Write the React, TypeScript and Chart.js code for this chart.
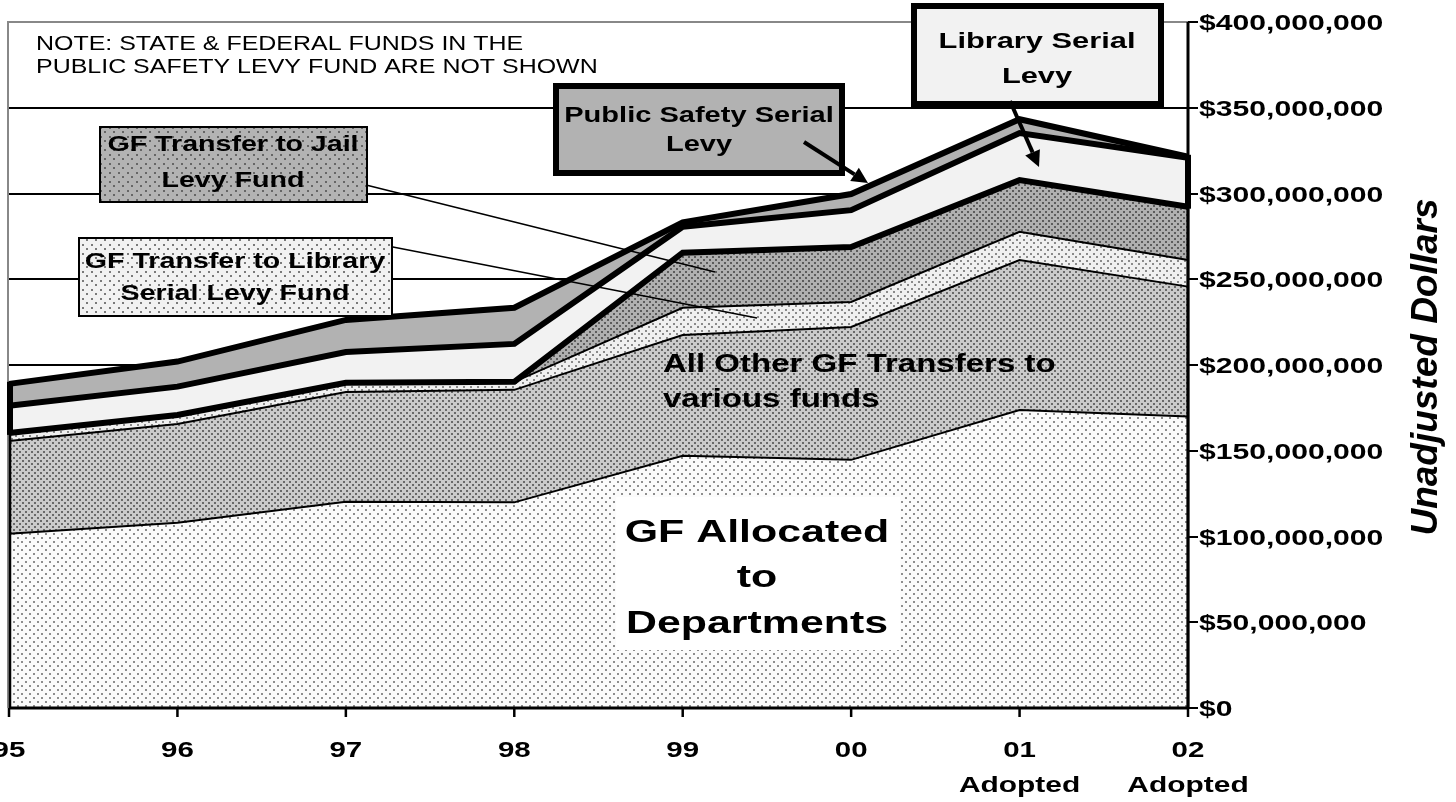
import React, { useEffect, useRef } from 'react';
import { Chart, registerables } from 'chart.js';

Chart.register(...registerables);

// ---------- data (millions of dollars) ----------
const categories = ['95', '96', '97', '98', '99', '00', '01', '02'];
const categorySubLabels = ['', '', '', '', '', '', 'Adopted', 'Adopted'];

const gfAllocated = [101.6, 108.0, 120.3, 119.9, 147.1, 144.7, 173.8, 169.9];
const allOtherTransfers = [54.1, 57.6, 64.0, 65.6, 70.4, 77.5, 87.4, 75.8];
const libraryTransfer = [4.7, 5.3, 5.3, 4.7, 15.9, 14.6, 16.5, 15.5];
const jailTransfer = [0, 0, 0, 0, 32.1, 32.0, 30.1, 31.1];
const librarySerialLevy = [15.8, 16.5, 18.0, 22.1, 15.1, 21.5, 27.4, 28.6];
const publicSafetySerialLevy = [12.8, 14.6, 18.7, 21.1, 2.6, 9.4, 8.1, 0.5];

const yTickValues = [0, 50, 100, 150, 200, 250, 300, 350, 400];
const yTickLabels = [
  '$0',
  '$50,000,000',
  '$100,000,000',
  '$150,000,000',
  '$200,000,000',
  '$250,000,000',
  '$300,000,000',
  '$350,000,000',
  '$400,000,000',
];

const FONT = '"Liberation Sans", Arial, Helvetica, sans-serif';

function makePattern(bg: string, dot: string, tile: number, offsets: number[][], dotSize = 2) {
  const c = document.createElement('canvas');
  c.width = tile;
  c.height = tile;
  const g = c.getContext('2d')!;
  g.fillStyle = bg;
  g.fillRect(0, 0, tile, tile);
  g.fillStyle = dot;
  for (const [x, y] of offsets) g.fillRect(x, y, dotSize, dotSize);
  const ctx = document.createElement('canvas').getContext('2d')!;
  return ctx.createPattern(c, 'repeat')!;
}

function drawText(
  ctx: CanvasRenderingContext2D,
  text: string,
  x: number,
  y: number,
  size: number,
  weight: string,
  sx: number,
  align: 'left' | 'center' | 'right' = 'left',
  style = 'normal'
) {
  ctx.save();
  ctx.font = `${style} ${weight} ${size}px ${FONT}`;
  ctx.textBaseline = 'alphabetic';
  ctx.textAlign = 'left';
  ctx.fillStyle = '#000';
  const w = ctx.measureText(text).width * sx;
  const x0 = align === 'center' ? x - w / 2 : align === 'right' ? x - w : x;
  ctx.translate(x0, y);
  ctx.scale(sx, 1);
  ctx.fillText(text, 0, 0);
  ctx.restore();
}

function drawArrow(
  ctx: CanvasRenderingContext2D,
  x1: number,
  y1: number,
  x2: number,
  y2: number,
  lw: number,
  head: number,
  hw: number
) {
  const a = Math.atan2(y2 - y1, x2 - x1);
  const bx = x2 - head * Math.cos(a);
  const by = y2 - head * Math.sin(a);
  ctx.save();
  ctx.strokeStyle = '#000';
  ctx.fillStyle = '#000';
  ctx.lineWidth = lw;
  ctx.beginPath();
  ctx.moveTo(x1, y1);
  ctx.lineTo(bx, by);
  ctx.stroke();
  ctx.beginPath();
  ctx.moveTo(x2, y2);
  ctx.lineTo(bx + hw * Math.sin(a), by - hw * Math.cos(a));
  ctx.lineTo(bx - hw * Math.sin(a), by + hw * Math.cos(a));
  ctx.closePath();
  ctx.fill();
  ctx.restore();
}

export default function App() {
  const ref = useRef<HTMLCanvasElement>(null);

  useEffect(() => {
    const canvas = ref.current!;
    const stagger6 = [
      [1, 1],
      [4, 4],
    ];
    const stagger8 = [
      [1, 1],
      [5, 5],
    ];
    const stagger9 = [
      [1, 1],
      [5, 5],
    ];
    const pAlloc = makePattern('#fbfbfb', '#8e8e8e', 8, stagger8);
    const pOther = makePattern('#cbcbcb', '#6a6a6a', 6, stagger6);
    const pLibT = makePattern('#f0f0f0', '#8a8a8a', 7, [
      [1, 1],
      [4, 4],
    ]);
    const pJail = makePattern('#b0b0b0', '#5c5c5c', 6, stagger6);
    const pJailBox = makePattern('#b3b3b3', '#666666', 9, stagger9);
    const pLibBox = makePattern('#f2f2f2', '#7a7a7a', 9, stagger9);

    const overlay = {
      id: 'overlay',
      beforeDraw(chart: any) {
        const { ctx, chartArea: ca, scales } = chart;
        const ys = scales.y;
        ctx.save();
        ctx.fillStyle = '#fff';
        ctx.fillRect(0, 0, chart.width, chart.height);
        ctx.strokeStyle = '#000';
        ctx.lineWidth = 2;
        for (const v of yTickValues) {
          if (v === 0 || v === 400) continue;
          const py = Math.round(ys.getPixelForValue(v));
          ctx.beginPath();
          ctx.moveTo(ca.left, py);
          ctx.lineTo(ca.right, py);
          ctx.stroke();
        }
        ctx.strokeStyle = '#888';
        ctx.lineWidth = 2;
        ctx.beginPath();
        ctx.moveTo(ca.left - 1, ca.bottom);
        ctx.lineTo(ca.left - 1, ca.top);
        ctx.lineTo(ca.right, ca.top);
        ctx.stroke();
        ctx.restore();
      },
      afterDraw(chart: any) {
        const { ctx, chartArea: ca, scales } = chart;
        const xs = scales.x;
        const ys = scales.y;
        const n = categories.length;
        ctx.save();
        ctx.strokeStyle = '#000';
        // vertical edges of the stacked areas
        for (const i of [0, n - 1]) {
          const px = xs.getPixelForValue(i) + (i === 0 ? 1 : 0);
          const base = gfAllocated[i] + allOtherTransfers[i] + libraryTransfer[i] + jailTransfer[i];
          const top = base + librarySerialLevy[i] + publicSafetySerialLevy[i];
          ctx.lineWidth = 2.5;
          ctx.beginPath();
          ctx.moveTo(px, ys.getPixelForValue(0));
          ctx.lineTo(px, ys.getPixelForValue(base));
          ctx.stroke();
          ctx.lineWidth = 6;
          ctx.beginPath();
          ctx.moveTo(px, ys.getPixelForValue(base) + 2);
          ctx.lineTo(px, ys.getPixelForValue(top) - 2);
          ctx.stroke();
        }
        // x axis
        ctx.lineWidth = 3;
        ctx.beginPath();
        ctx.moveTo(ca.left, ca.bottom);
        ctx.lineTo(ca.right + 1, ca.bottom);
        ctx.stroke();
        ctx.lineWidth = 2.5;
        for (let i = 0; i < n; i++) {
          const px = xs.getPixelForValue(i);
          ctx.beginPath();
          ctx.moveTo(px, ca.bottom);
          ctx.lineTo(px, ca.bottom + 9);
          ctx.stroke();
          drawText(ctx, categories[i], px, 757, 22, 'bold', 1.34, 'center');
          if (categorySubLabels[i]) drawText(ctx, categorySubLabels[i], px, 792, 22, 'bold', 1.36, 'center');
        }
        // y axis (right)
        ctx.lineWidth = 3;
        ctx.beginPath();
        ctx.moveTo(ca.right, ca.top);
        ctx.lineTo(ca.right, ca.bottom + 1);
        ctx.stroke();
        ctx.lineWidth = 2;
        yTickValues.forEach((v, k) => {
          const py = Math.round(ys.getPixelForValue(v));
          ctx.beginPath();
          ctx.moveTo(ca.right, py);
          ctx.lineTo(ca.right + 10, py);
          ctx.stroke();
          drawText(ctx, yTickLabels[k], ca.right + 11, py + 8, 22, 'bold', 1.37, 'left');
        });
        // y title
        ctx.save();
        ctx.translate(1437, (ca.top + ca.bottom) / 2 + 2);
        ctx.rotate(-Math.PI / 2);
        ctx.font = `italic bold 37px ${FONT}`;
        ctx.textAlign = 'center';
        ctx.textBaseline = 'alphabetic';
        ctx.fillStyle = '#000';
        ctx.fillText('Unadjusted Dollars', 0, 0);
        ctx.restore();

        // note
        drawText(ctx, 'NOTE: STATE & FEDERAL FUNDS IN THE', 36, 50, 19.5, 'normal', 1.28);
        drawText(ctx, 'PUBLIC SAFETY LEVY FUND ARE NOT SHOWN', 36, 73, 19.5, 'normal', 1.28);

        // leader lines
        ctx.lineWidth = 1.6;
        ctx.beginPath();
        ctx.moveTo(358, 183);
        ctx.lineTo(715, 272);
        ctx.stroke();
        ctx.beginPath();
        ctx.moveTo(357, 240);
        ctx.lineTo(757, 318);
        ctx.stroke();

        // GF Transfer to Jail Levy Fund box
        ctx.fillStyle = pJailBox;
        ctx.fillRect(100, 127, 267, 75);
        ctx.lineWidth = 2;
        ctx.strokeRect(100, 127, 267, 75);
        drawText(ctx, 'GF Transfer to Jail', 233, 151, 22, 'bold', 1.3, 'center');
        drawText(ctx, 'Levy Fund', 233, 187, 22, 'bold', 1.3, 'center');

        // GF Transfer to Library Serial Levy Fund box
        ctx.fillStyle = pLibBox;
        ctx.fillRect(79, 238, 313, 78);
        ctx.strokeRect(79, 238, 313, 78);
        drawText(ctx, 'GF Transfer to Library', 235, 268, 22, 'bold', 1.3, 'center');
        drawText(ctx, 'Serial Levy Fund', 235, 300, 22, 'bold', 1.3, 'center');

        // Public Safety Serial Levy box
        ctx.fillStyle = '#b2b2b2';
        ctx.fillRect(556, 86, 286, 87);
        ctx.lineWidth = 6;
        ctx.strokeRect(556, 86, 286, 87);
        drawText(ctx, 'Public Safety Serial', 699, 122, 22, 'bold', 1.32, 'center');
        drawText(ctx, 'Levy', 699, 151, 22, 'bold', 1.32, 'center');
        drawArrow(ctx, 804, 142, 868, 183, 4, 16, 8);

        // Library Serial Levy box
        ctx.fillStyle = '#f2f2f2';
        ctx.fillRect(914, 6, 247, 98);
        ctx.lineWidth = 6;
        ctx.strokeRect(914, 6, 247, 98);
        drawText(ctx, 'Library Serial', 1037, 48, 22, 'bold', 1.4, 'center');
        drawText(ctx, 'Levy', 1037, 83, 22, 'bold', 1.4, 'center');
        drawArrow(ctx, 1010, 101, 1039, 167, 4, 16, 8);

        // All Other GF Transfers label
        drawText(ctx, 'All Other GF Transfers to', 663, 372, 26, 'bold', 1.27, 'left');
        drawText(ctx, 'various funds', 663, 407, 26, 'bold', 1.27, 'left');

        // GF Allocated to Departments
        ctx.fillStyle = '#fff';
        ctx.fillRect(616, 497, 284, 153);
        drawText(ctx, 'GF Allocated', 757, 542, 32, 'bold', 1.34, 'center');
        drawText(ctx, 'to', 757, 587, 32, 'bold', 1.34, 'center');
        drawText(ctx, 'Departments', 757, 633, 32, 'bold', 1.34, 'center');
        ctx.restore();
      },
    };

    const common = { pointRadius: 0, tension: 0, borderColor: '#000', borderJoinStyle: 'miter' as const };

    const chart = new Chart(canvas, {
      type: 'line',
      data: {
        labels: categories,
        datasets: [
          { ...common, label: 'GF Allocated to Departments', data: gfAllocated, backgroundColor: pAlloc, fill: 'origin', borderWidth: 2 },
          { ...common, label: 'All Other GF Transfers to various funds', data: allOtherTransfers, backgroundColor: pOther, fill: '-1', borderWidth: 2 },
          { ...common, label: 'GF Transfer to Library Serial Levy Fund', data: libraryTransfer, backgroundColor: pLibT, fill: '-1', borderWidth: 2 },
          { ...common, label: 'GF Transfer to Jail Levy Fund', data: jailTransfer, backgroundColor: pJail, fill: '-1', borderWidth: 6 },
          { ...common, label: 'Library Serial Levy', data: librarySerialLevy, backgroundColor: '#f2f2f2', fill: '-1', borderWidth: 6 },
          { ...common, label: 'Public Safety Serial Levy', data: publicSafetySerialLevy, backgroundColor: '#b2b2b2', fill: '-1', borderWidth: 6 },
        ],
      },
      options: {
        responsive: false,
        animation: false,
        devicePixelRatio: 1,
        layout: { padding: { left: 9, top: 22, right: 0, bottom: 0 } },
        plugins: {
          legend: { display: false },
          tooltip: { enabled: false },
          filler: { drawTime: 'beforeDatasetsDraw' },
        },
        scales: {
          x: {
            type: 'category',
            offset: false,
            grid: { display: false },
            border: { display: false },
            ticks: { display: false },
            afterFit: (s: any) => {
              s.height = 94;
            },
          },
          y: {
            position: 'right',
            stacked: true,
            min: 0,
            max: 400,
            grid: { display: false },
            border: { display: false },
            ticks: { display: false, stepSize: 50 },
            afterFit: (s: any) => {
              s.width = 268;
            },
          },
        },
      } as any,
      plugins: [overlay],
    });

    return () => chart.destroy();
  }, []);

  return (
    <div style={{ position: 'absolute', left: 0, top: 0, width: 1456, height: 802 }}>
      <canvas ref={ref} width={1456} height={802} style={{ display: 'block', width: 1456, height: 802 }} />
    </div>
  );
}
